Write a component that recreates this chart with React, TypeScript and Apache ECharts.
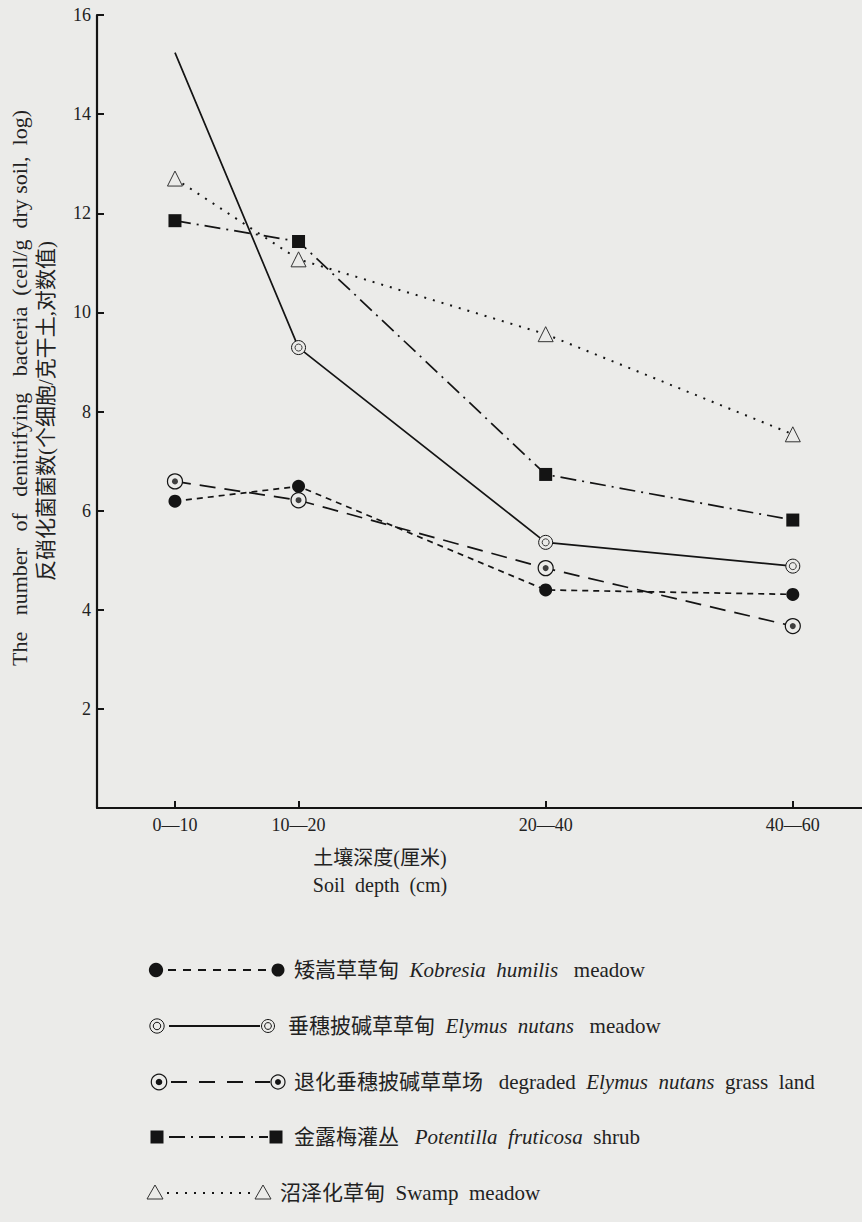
import React, { useEffect, useRef } from 'react';
import * as echarts from 'echarts';

// ---- data ----
const depthPositions = [10, 20, 40, 60];
const depthLabels = ['0—10', '10—20', '20—40', '40—60'];

const kobresia = [6.19, 6.49, 4.4, 4.31];
const elymus = [15.24, 9.29, 5.36, 4.88];
const degraded = [6.59, 6.21, 4.84, 3.67];
const potentilla = [11.85, 11.43, 6.73, 5.81];
const swamp = [12.7, 11.07, 9.56, 7.54];

const yAxisNameEn = 'The   number   of   denitrifying   bacteria  (cell/g  dry soil,  log)';
const yAxisNameCn = '反硝化菌菌数(个细胞/克干土,对数值)';
const xAxisNameCn = '土壤深度(厘米)';
const xAxisNameEn = 'Soil  depth  (cm)';

const legendTexts = [
  '{n|矮嵩草草甸  }{i|Kobresia  humilis}{n|   meadow}',
  '{n|垂穗披碱草草甸  }{i|Elymus  nutans}{n|   meadow}',
  '{n|退化垂穗披碱草草场   degraded  }{i|Elymus  nutans}{n|  grass  land}',
  '{n|金露梅灌丛   }{i|Potentilla  fruticosa}{n|  shrub}',
  '{n|沼泽化草甸  Swamp  meadow}',
];

const BG = '#ebebe9';
const INK = '#141414';
const FONT = '"Liberation Serif", "DejaVu Serif", "Noto Sans CJK SC", serif';

const pts = (vals: number[]) => vals.map((v, i) => [depthPositions[i], v]);

function marker(kind: string, cx: number, cy: number, big = false): any[] {
  const s = big ? 1.1 : 1;
  switch (kind) {
    case 'dot':
      return [{ type: 'circle', shape: { cx, cy, r: 6.5 * s }, style: { fill: INK } }];
    case 'double':
      return [
        { type: 'circle', shape: { cx, cy, r: 6.5 * s }, style: { fill: BG, stroke: INK, lineWidth: 1 } },
        { type: 'circle', shape: { cx, cy, r: 3.4 * s }, style: { fill: BG, stroke: INK, lineWidth: 1 } },
      ];
    case 'target':
      return [
        { type: 'circle', shape: { cx, cy, r: 7 * s }, style: { fill: BG, stroke: INK, lineWidth: 1.2 } },
        { type: 'circle', shape: { cx, cy, r: 3 * s }, style: { fill: INK } },
      ];
    case 'square':
      return [{ type: 'rect', shape: { x: cx - 6.5, y: cy - 6.5, width: 13, height: 13 }, style: { fill: INK } }];
    default:
      return [
        {
          type: 'polygon',
          shape: { points: [[cx, cy - 8], [cx - 8, cy + 6], [cx + 8, cy + 6]] },
          style: { fill: BG, stroke: '#333', lineWidth: 1 },
        },
      ];
  }
}

export default function App() {
  const ref = useRef<HTMLDivElement>(null);

  useEffect(() => {
    if (!ref.current) return;
    const chart = echarts.init(ref.current, undefined, { renderer: 'svg' });

    const legendRows = [
      { kind: 'dot', y: 970, lx: 156, rx: 278, dash: [8, 7], w: 1.8, tx: 294 },
      { kind: 'double', y: 1026, lx: 157, rx: 268, dash: null, w: 1.8, tx: 288 },
      { kind: 'target', y: 1082, lx: 159, rx: 278, dash: [16, 12], w: 1.8, tx: 294 },
      { kind: 'square', y: 1137, lx: 157, rx: 276, dash: [16, 6, 2, 6], w: 1.8, tx: 294 },
      { kind: 'tri', y: 1193, lx: 155, rx: 263, dash: [2, 7], w: 1.8, tx: 280 },
    ];

    const graphics: any[] = [];
    legendRows.forEach((r, i) => {
      graphics.push({
        type: 'line',
        shape: { x1: r.lx + 12, y1: r.y, x2: r.rx - 8, y2: r.y },
        style: { stroke: INK, lineWidth: r.w, lineDash: r.dash || undefined },
      });
      graphics.push(...marker(r.kind, r.lx, r.y, true));
      graphics.push(...marker(r.kind, r.rx, r.y));
      graphics.push({
        type: 'text',
        x: r.tx,
        y: r.y,
        style: {
          text: legendTexts[i],
          verticalAlign: 'middle',
          rich: {
            n: { fontFamily: FONT, fontSize: 21, fill: '#222' },
            i: { fontFamily: FONT, fontSize: 21, fontStyle: 'italic', fill: '#222' },
          },
        },
      });
    });

    graphics.push(
      {
        type: 'text',
        x: 19,
        y: 388,
        rotation: Math.PI / 2,
        style: { text: yAxisNameEn, fontFamily: FONT, fontSize: 22, fill: '#222', align: 'center', verticalAlign: 'middle' },
      },
      {
        type: 'text',
        x: 46,
        y: 411,
        rotation: Math.PI / 2,
        style: { text: yAxisNameCn, fontFamily: FONT, fontSize: 21, fill: '#222', align: 'center', verticalAlign: 'middle' },
      },
      {
        type: 'text',
        x: 380,
        y: 858,
        style: { text: xAxisNameCn, fontFamily: FONT, fontSize: 20, fill: '#222', align: 'center', verticalAlign: 'middle' },
      },
      {
        type: 'text',
        x: 380,
        y: 885,
        style: { text: xAxisNameEn, fontFamily: FONT, fontSize: 20, fill: '#222', align: 'center', verticalAlign: 'middle' },
      }
    );

    const lineBase = (name: string, data: any[], lineStyle: any, symbol: string, size: number, itemStyle: any) => ({
      name,
      type: 'line',
      data,
      symbol,
      symbolSize: size,
      itemStyle,
      lineStyle: { color: INK, width: 1.7, ...lineStyle },
      z: 3,
    });

    const elymusData: any[] = pts(elymus);
    elymusData[0] = { value: elymusData[0], symbol: 'none' };

    chart.setOption({
      animation: false,
      backgroundColor: BG,
      grid: { left: 97, top: 15, right: 0, bottom: 414, containLabel: false },
      xAxis: {
        type: 'value',
        min: 3.69,
        max: 65.6,
        axisLine: { show: true, lineStyle: { color: INK, width: 2.2 } },
        axisTick: { show: true, inside: true, length: 7, lineStyle: { color: INK, width: 2 }, customValues: depthPositions },
        axisLabel: {
          customValues: depthPositions,
          formatter: (v: number) => depthLabels[depthPositions.indexOf(v)] ?? '',
          fontFamily: FONT,
          fontSize: 18,
          color: '#222',
          margin: 8,
        },
        splitLine: { show: false },
      },
      yAxis: {
        type: 'value',
        min: 0,
        max: 16,
        interval: 2,
        axisLine: { show: true, lineStyle: { color: INK, width: 2.2 } },
        axisTick: { show: true, inside: true, length: 7, lineStyle: { color: INK, width: 2 } },
        axisLabel: {
          formatter: (v: number) => (v === 0 ? '' : String(v)),
          fontFamily: FONT,
          fontSize: 18,
          color: '#222',
          margin: 6,
        },
        splitLine: { show: false },
      },
      graphic: graphics,
      series: [
        lineBase('矮嵩草草甸', pts(kobresia), { type: [6, 5] }, 'circle', 13, { color: INK }),
        lineBase('垂穗披碱草草甸', elymusData, { type: 'solid' }, 'circle', 14, { color: BG, borderColor: INK, borderWidth: 1 }),
        lineBase('退化垂穗披碱草草场', pts(degraded), { type: [16, 9] }, 'circle', 15, { color: BG, borderColor: INK, borderWidth: 1.2 }),
        lineBase('金露梅灌丛', pts(potentilla), { type: [16, 6, 2, 6] }, 'rect', 13, { color: INK }),
        lineBase('沼泽化草甸', pts(swamp), { type: [2, 7], width: 2 }, 'triangle', 15, { color: BG, borderColor: '#333', borderWidth: 1 }),
        {
          name: 'elymus-inner',
          type: 'scatter',
          data: pts(elymus).slice(1),
          symbol: 'circle',
          symbolSize: 7,
          itemStyle: { color: BG, borderColor: INK, borderWidth: 1 },
          z: 5,
        },
        {
          name: 'degraded-inner',
          type: 'scatter',
          data: pts(degraded),
          symbol: 'circle',
          symbolSize: 6,
          itemStyle: { color: INK },
          z: 5,
        },
      ],
    });

    return () => chart.dispose();
  }, []);

  return <div ref={ref} style={{ position: 'fixed', left: 0, top: 0, width: 862, height: 1222 }} />;
}
